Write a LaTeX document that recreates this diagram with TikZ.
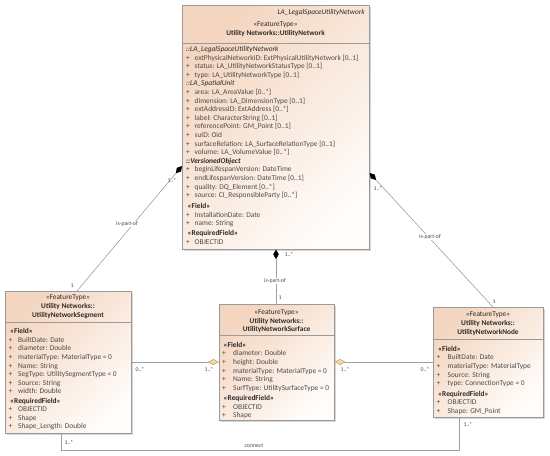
\documentclass[tikz,border=0pt]{standalone}
\usepackage{fontspec}
\setmainfont{Carlito}
\usetikzlibrary{arrows.meta,calc,shadows}
\definecolor{boxtl}{HTML}{F4D6C0}
\definecolor{boxbr}{HTML}{FFFCFA}
\definecolor{boxline}{HTML}{9A9A9A}
\definecolor{txt}{HTML}{4A4A4A}
\definecolor{hdr}{HTML}{2A2A2A}
\definecolor{conn}{HTML}{A0A0A0}
\definecolor{agfill}{HTML}{F7D9A6}
\definecolor{agline}{HTML}{C9A46A}
\newcommand{\stsec}[1]{\multicolumn{2}{@{\hspace{1.5pt}}l@{}}{\textcolor{hdr}{\bfseries #1}}}
\newcommand{\insec}[1]{\multicolumn{2}{@{}l@{}}{\textcolor{hdr}{\itshape #1}}}
\begin{document}
\begin{tikzpicture}[x=1pt,y=-1pt,
  umlbox/.style={draw=boxline, line width=0.6pt, anchor=north west, inner sep=0pt,
    top color=boxtl, bottom color=boxbr, shading angle=45,
    drop shadow={shadow xshift=1.2pt, shadow yshift=-1.2pt, opacity=0.35, fill=black!45}},
  sepline/.style={draw=boxline, line width=0.5pt},
  attr/.style={inner sep=0pt, anchor=base west, font=\fontsize{7.4}{8.6}\selectfont, text=txt},
  hdrc/.style={inner sep=0pt, anchor=base, font=\fontsize{7.3}{8.8}\selectfont, text=hdr},
  conn/.style={draw=conn, line width=0.6pt},
  lbl/.style={inner sep=0.6pt, font=\fontsize{5.8}{6.5}\selectfont, text=txt},
  lblw/.style={lbl, fill=white},
  comp/.style={{Diamond[length=9.5pt,width=5.5pt,color=black]}-},
  aggr/.style={{Diamond[length=11pt,width=6pt,fill=agfill,color=agline]}-}
]
\fill[white] (0,0) rectangle (550,456);
\useasboundingbox (0,0) rectangle (550,456);

% ---------- boxes ----------
\node[umlbox, minimum width=187pt, minimum height=244pt] (net) at (182,5) {};
\node[umlbox, minimum width=126pt, minimum height=142pt] (seg) at (5,291) {};
\node[umlbox, minimum width=115pt, minimum height=116pt] (surf) at (219,304) {};
\node[umlbox, minimum width=110pt, minimum height=110pt] (unode) at (433,307) {};

% ---------- main box ----------
\node[hdrc, anchor=base east] (nettag) at (365,14.7) {\textit{LA\_LegalSpaceUtilityNetwork}};
\node[hdrc] (nethd) at (275.5,26.3) {\begin{tabular}[t]{@{}c@{}}«FeatureType»\\[0.2pt]\textbf{Utility Networks::UtilityNetwork}\end{tabular}};
\draw[sepline] ($(net.north west)+(0,38.5)$) -- ($(net.north east)+(0,38.5)$);
\node[attr] (netattr) at (186,51.5) {\begin{tabular}[t]{@{}p{8.5pt}@{}l@{}}
\insec{::LA\_LegalSpaceUtilityNetwork}\\
+ & extPhysicalNetworkID: ExtPhysicalUtilityNetwork [0..1]\\
+ & status: LA\_UtilityNetworkStatusType [0..1]\\
+ & type: LA\_UtilityNetworkType [0..1]\\
\insec{::LA\_SpatialUnit}\\
+ & area: LA\_AreaValue [0..*]\\
+ & dimension: LA\_DimensionType [0..1]\\
+ & extAddressID: ExtAddress [0..*]\\
+ & label: CharacterString [0..1]\\
+ & referencePoint: GM\_Point [0..1]\\
+ & suID: Oid\\
+ & surfaceRelation: LA\_SurfaceRelationType [0..1]\\
+ & volume: LA\_VolumeValue [0..*]\\
\insec{\bfseries ::VersionedObject}\\
+ & beginLifespanVersion: DateTime\\
+ & endLifespanVersion: DateTime [0..1]\\
+ & quality: DQ\_Element [0..*]\\
+ & source: CI\_ResponsibleParty [0..*]\\[2.1pt]
\stsec{«Field»}\\
+ & InstallationDate: Date\\
+ & name: String\\[1.7pt]
\stsec{«RequiredField»}\\
+ & OBJECTID
\end{tabular}};

% ---------- segment box ----------
\node[hdrc] (seghd) at (68,299.7) {\begin{tabular}[t]{@{}c@{}}«FeatureType»\\\textbf{Utility Networks::}\\\textbf{UtilityNetworkSegment}\end{tabular}};
\draw[sepline] ($(seg.north west)+(0,31.7)$) -- ($(seg.north east)+(0,31.7)$);
\node[attr] (segattr) at (8.5,333.7) {\begin{tabular}[t]{@{}p{9.5pt}@{}l@{}}
\stsec{«Field»}\\
+ & BuiltDate: Date\\
+ & diameter: Double\\
+ & materialType: MaterialType = 0\\
+ & Name: String\\
+ & SegType: UtilitySegmentType = 0\\
+ & Source: String\\
+ & width: Double\\[0.6pt]
\stsec{«RequiredField»}\\
+ & OBJECTID\\
+ & Shape\\
+ & Shape\_Length: Double
\end{tabular}};

% ---------- surface box ----------
\node[hdrc] (surfhd) at (276.5,314.3) {\begin{tabular}[t]{@{}c@{}}«FeatureType»\\\textbf{Utility Networks::}\\\textbf{UtilityNetworkSurface}\end{tabular}};
\draw[sepline] ($(surf.north west)+(0,31)$) -- ($(surf.north east)+(0,31)$);
\node[attr] (surfattr) at (222,347.3) {\begin{tabular}[t]{@{}p{11pt}@{}l@{}}
\stsec{«Field»}\\
+ & diameter: Double\\
+ & height: Double\\
+ & materialType: MaterialType = 0\\
+ & Name: String\\
+ & SurfType: UtilitySurfaceType = 0\\[1.6pt]
\stsec{«RequiredField»}\\
+ & OBJECTID\\
+ & Shape
\end{tabular}};

% ---------- node box ----------
\node[hdrc] (nodehd) at (488,316.7) {\begin{tabular}[t]{@{}c@{}}«FeatureType»\\\textbf{Utility Networks::}\\\textbf{UtilityNetworkNode}\end{tabular}};
\draw[sepline] ($(unode.north west)+(0,32.3)$) -- ($(unode.north east)+(0,32.3)$);
\node[attr] (nodeattr) at (436.5,351.3) {\begin{tabular}[t]{@{}p{11pt}@{}l@{}}
\stsec{«Field»}\\
+ & BuiltDate: Date\\
+ & materialType: MaterialType\\
+ & Source: String\\
+ & type: ConnectionType = 0\\[1.8pt]
\stsec{«RequiredField»}\\
+ & OBJECTID\\
+ & Shape: GM\_Point
\end{tabular}};

% ---------- connectors ----------
\draw[conn, comp] ($(net.north west)+(0,161)$) -- ($(seg.north west)+(72,0)$);
\draw[conn, comp] ($(net.north east)+(0,168)$) -- ($(unode.north west)+(60,0)$);
\draw[conn, comp] ($(net.south west)+(94,0)$) -- ($(surf.north west)+(57,0)$);
\draw[conn, aggr] ($(surf.north west)+(0,58)$) -- ($(seg.north east)+(0,71)$);
\draw[conn, aggr] ($(surf.north east)+(0,58)$) -- ($(unode.north west)+(0,55)$);
\draw[conn] ($(seg.south west)+(56,0)$) |- ($(unode.south west)+(26,33)$) -- ($(unode.south west)+(26,0)$);

% ---------- labels ----------
\node[lbl] (la1) at (172,180) {1..*};
\node[lblw] (la2) at (127,224) {is-part-of};
\node[lbl] (la3) at (72,286) {1};
\node[lbl] (lb1) at (378,188) {1..*};
\node[lblw] (lb2) at (430,237) {is-part-of};
\node[lbl] (lb3) at (494,302) {1};
\node[lbl] (lc1) at (289,254) {1..*};
\node[lblw] (lc2) at (275,281) {is-part-of};
\node[lbl] (lc3) at (280,298) {1};
\node[lbl] (ld1) at (140,369) {0..*};
\node[lbl] (ld2) at (209,369) {1..*};
\node[lbl] (le1) at (345,369) {1..*};
\node[lbl] (le2) at (425,369) {0..*};
\node[lbl] (lf1) at (69,442) {1..*};
\node[lbl] (lf2) at (254,446) {connect};
\node[lbl] (lf3) at (468,424) {1..*};
\end{tikzpicture}
\end{document}
